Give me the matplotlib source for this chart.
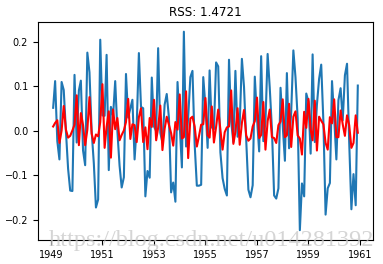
import matplotlib
matplotlib.use("Agg")
from matplotlib import pyplot as plt
import matplotlib.dates as mdates
import pandas as pd
import datetime as dt

# log-differenced passengers, Feb 1949 .. Dec 1960
log_diff = [
    0.052, 0.112, -0.023, -0.064, 0.110, 0.092, 0.000, -0.085, -0.134, -0.135, 0.126,
    -0.026, 0.091, 0.113, -0.044, -0.077, 0.176, 0.132, 0.000, -0.073, -0.172, -0.154, 0.205,
    0.035, 0.034, 0.171, -0.088, 0.054, 0.034, 0.112, 0.000, -0.078, -0.127, -0.104, 0.128,
    0.030, 0.051, 0.070, -0.064, 0.011, 0.175, 0.054, 0.051, -0.147, -0.090, -0.105, 0.120,
    0.010, 0.000, 0.186, -0.004, -0.026, 0.059, 0.083, 0.030, -0.138, -0.116, -0.159, 0.110,
    0.015, -0.082, 0.223, -0.035, 0.030, 0.121, 0.135, -0.030, -0.123, -0.123, -0.121, 0.121,
    0.055, -0.038, 0.136, 0.008, 0.004, 0.154, 0.145, -0.048, -0.106, -0.130, -0.145, 0.160,
    0.021, -0.025, 0.135, -0.013, 0.016, 0.162, 0.099, -0.020, -0.132, -0.149, -0.122, 0.122,
    0.029, -0.046, 0.168, -0.023, 0.020, 0.173, 0.097, 0.004, -0.145, -0.152, -0.129, 0.097,
    0.012, -0.067, 0.130, -0.039, 0.042, 0.181, 0.121, 0.028, -0.223, -0.118, -0.147, 0.084,
    0.066, -0.051, 0.172, -0.025, 0.059, 0.117, 0.149, 0.020, -0.188, -0.129, -0.117, 0.112,
    0.029, -0.064, 0.069, 0.096, 0.024, 0.125, 0.151, -0.026, -0.176, -0.097, -0.167, 0.102,
]

# fitted values of the model (red)
fitted = [
    0.010, 0.018, 0.024, -0.027, 0.001, 0.056, 0.003, -0.015, -0.011, 0.001, 0.014,
    0.080, -0.032, 0.040, 0.013, -0.032, 0.003, 0.076, -0.006, -0.027, -0.008, -0.012, 0.020,
    0.105, -0.038, 0.009, 0.044, -0.060, 0.048, 0.004, 0.029, -0.021, -0.009, 0.001, 0.020,
    0.072, -0.018, 0.015, 0.013, -0.025, 0.031, 0.051, -0.025, 0.008, -0.041, 0.029, 0.009,
    0.070, -0.021, 0.007, 0.057, -0.043, 0.005, 0.032, 0.014, -0.005, -0.033, 0.020, 0.003,
    0.082, -0.017, -0.014, 0.089, -0.061, 0.028, 0.032, 0.010, -0.035, -0.012, 0.014, 0.015,
    0.074, -0.010, -0.015, 0.055, -0.026, 0.009, 0.048, 0.003, -0.042, -0.003, 0.008, 0.010,
    0.091, -0.029, -0.002, 0.051, -0.031, 0.018, 0.047, -0.010, -0.022, -0.017, 0.010, 0.022,
    0.075, -0.016, -0.009, 0.065, -0.042, 0.022, 0.048, -0.014, -0.016, -0.027, 0.013, 0.021,
    0.071, -0.014, -0.010, 0.061, -0.036, 0.032, 0.044, -0.010, -0.017, -0.053, 0.043, 0.007,
    0.072, 0.003, -0.021, 0.068, -0.044, 0.032, 0.023, 0.015, -0.027, -0.042, 0.031, 0.017,
    0.071, -0.014, -0.014, 0.046, 0.015, -0.011, 0.035, 0.013, -0.038, -0.027, 0.035, -0.004,
]

rss = 1.4721
months = pd.date_range("1949-02-01", periods=len(log_diff), freq="MS")
year_ticks = [dt.datetime(y, 1, 1) for y in range(1949, 1962, 2)]

fig = plt.figure(figsize=(3.83, 2.64), dpi=100)
ax = fig.add_axes([0.099, 0.091, 0.875, 0.826])

ax.plot(months, log_diff, color="#1f77b4", lw=1.5)
ax.plot(months, fitted, color="red", lw=1.5)

ax.set_ylim(-0.245, 0.245)
ax.set_yticks([-0.2, -0.1, 0.0, 0.1, 0.2])
ax.set_xticks(year_ticks)
ax.xaxis.set_major_formatter(mdates.DateFormatter("%Y"))
ax.tick_params(labelsize=7, length=3.5)
ax.set_title("RSS: %.4f" % rss, fontsize=8.6, pad=4)

# blog watermark
fig.text(0.552, 0.09, "https://blog.csdn.net/u014281392", fontsize=17.5,
         family="Liberation Serif", color="#c8c8c8", alpha=0.75,
         ha="center", va="center", zorder=10)

fig.savefig("out.png", dpi=100)
